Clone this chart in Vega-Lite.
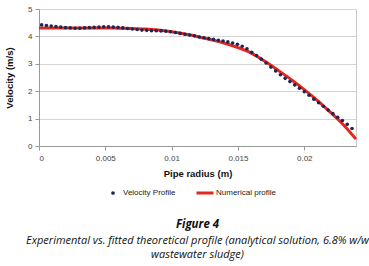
{
  "$schema": "https://vega.github.io/schema/vega-lite/v6.json",
  "autosize": "none",
  "width": 317,
  "height": 137,
  "padding": {"left": 39, "top": 9, "right": 13, "bottom": 120},
  "background": "white",
  "config": {
    "font": "Liberation Sans",
    "view": {"stroke": "#c8c8c8", "strokeWidth": 1},
    "axis": {"labelFont": "Liberation Sans", "labelFontSize": 8, "labelColor": "#444", "titleFont": "Liberation Sans", "titleFontSize": 9.5, "titleFontWeight": "bold", "titleColor": "#111", "domainColor": "#999", "tickColor": "#999", "gridColor": "#d4d4d4"},
    "legend": {"labelFont": "Liberation Sans", "labelFontSize": 8, "labelColor": "#222", "title": null}
  },
  "datasets": {
    "meas": [
      {"r": 0.0002, "v": 4.42}, {"r": 0.00056, "v": 4.40}, {"r": 0.00092, "v": 4.38}, {"r": 0.00128, "v": 4.36},
      {"r": 0.00164, "v": 4.34}, {"r": 0.002, "v": 4.32}, {"r": 0.00236, "v": 4.31}, {"r": 0.00272, "v": 4.30},
      {"r": 0.00308, "v": 4.30}, {"r": 0.00344, "v": 4.31}, {"r": 0.0038, "v": 4.32}, {"r": 0.00416, "v": 4.33},
      {"r": 0.00452, "v": 4.34}, {"r": 0.00488, "v": 4.35}, {"r": 0.00524, "v": 4.35}, {"r": 0.0056, "v": 4.34},
      {"r": 0.00596, "v": 4.33}, {"r": 0.00632, "v": 4.31}, {"r": 0.00668, "v": 4.29}, {"r": 0.00704, "v": 4.27},
      {"r": 0.0074, "v": 4.25}, {"r": 0.00776, "v": 4.23}, {"r": 0.00812, "v": 4.22}, {"r": 0.00848, "v": 4.21},
      {"r": 0.00884, "v": 4.21}, {"r": 0.0092, "v": 4.20}, {"r": 0.00956, "v": 4.19}, {"r": 0.00992, "v": 4.17},
      {"r": 0.01028, "v": 4.14}, {"r": 0.01064, "v": 4.11}, {"r": 0.011, "v": 4.08}, {"r": 0.01136, "v": 4.05},
      {"r": 0.01172, "v": 4.02}, {"r": 0.01208, "v": 3.98}, {"r": 0.01244, "v": 3.95}, {"r": 0.0128, "v": 3.92},
      {"r": 0.01316, "v": 3.89}, {"r": 0.01352, "v": 3.86}, {"r": 0.01388, "v": 3.83}, {"r": 0.01424, "v": 3.80},
      {"r": 0.0146, "v": 3.76}, {"r": 0.01496, "v": 3.71}, {"r": 0.01532, "v": 3.64}, {"r": 0.01568, "v": 3.55},
      {"r": 0.01604, "v": 3.42}, {"r": 0.0164, "v": 3.30}, {"r": 0.01676, "v": 3.17}, {"r": 0.01712, "v": 3.03},
      {"r": 0.01748, "v": 2.88}, {"r": 0.01784, "v": 2.74}, {"r": 0.0182, "v": 2.60}, {"r": 0.01856, "v": 2.47},
      {"r": 0.01892, "v": 2.35}, {"r": 0.01928, "v": 2.23}, {"r": 0.01964, "v": 2.11}, {"r": 0.02, "v": 1.98},
      {"r": 0.02036, "v": 1.85}, {"r": 0.02072, "v": 1.71}, {"r": 0.02108, "v": 1.58}, {"r": 0.02144, "v": 1.45},
      {"r": 0.0218, "v": 1.31}, {"r": 0.02216, "v": 1.18}, {"r": 0.02252, "v": 1.05}, {"r": 0.02288, "v": 0.93},
      {"r": 0.02324, "v": 0.79}, {"r": 0.0236, "v": 0.64}
    ],
    "model": [
      {"r": 0.0, "v": 4.31}, {"r": 0.001, "v": 4.31}, {"r": 0.002, "v": 4.31}, {"r": 0.003, "v": 4.31},
      {"r": 0.004, "v": 4.31}, {"r": 0.005, "v": 4.31}, {"r": 0.006, "v": 4.30}, {"r": 0.007, "v": 4.29},
      {"r": 0.008, "v": 4.27}, {"r": 0.009, "v": 4.23}, {"r": 0.01, "v": 4.17}, {"r": 0.011, "v": 4.09},
      {"r": 0.012, "v": 3.99}, {"r": 0.013, "v": 3.88}, {"r": 0.014, "v": 3.75}, {"r": 0.015, "v": 3.59},
      {"r": 0.016, "v": 3.39}, {"r": 0.017, "v": 3.10}, {"r": 0.018, "v": 2.77}, {"r": 0.019, "v": 2.43},
      {"r": 0.02, "v": 2.06}, {"r": 0.021, "v": 1.66}, {"r": 0.022, "v": 1.22}, {"r": 0.023, "v": 0.75},
      {"r": 0.0239, "v": 0.25}
    ]
  },
  "title": {
    "text": "Figure 4",
    "subtitle": ["Experimental vs. fitted theoretical profile (analytical solution, 6.8% w/w", "wastewater sludge)"],
    "orient": "bottom",
    "anchor": "middle",
    "offset": 20,
    "font": "Open Sans",
    "fontSize": 11.5,
    "fontStyle": "italic",
    "fontWeight": "bold",
    "color": "#111",
    "subtitleFont": "Open Sans",
    "subtitleFontSize": 11,
    "subtitleFontStyle": "italic",
    "subtitleColor": "#111",
    "subtitleLineHeight": 14.5,
    "subtitlePadding": 4
  },
  "encoding": {
    "x": {"field": "r", "type": "quantitative", "title": "Pipe radius (m)",
          "scale": {"domain": [0, 0.0239], "nice": false},
          "axis": {"values": [0, 0.005, 0.01, 0.015, 0.02], "format": "~g", "grid": false, "tickSize": 4, "labelPadding": 4, "titlePadding": 6}},
    "y": {"field": "v", "type": "quantitative", "title": "Velocity (m/s)",
          "scale": {"domain": [0, 5], "nice": false},
          "axis": {"values": [0, 1, 2, 3, 4, 5], "format": "d", "tickSize": 4, "labelPadding": 3, "titlePadding": 13}}
  },
  "layer": [
    {
      "data": {"name": "model"},
      "mark": {"type": "line", "strokeWidth": 3, "interpolate": "monotone"},
      "encoding": {
        "stroke": {"datum": "Numerical profile", "type": "nominal",
                   "scale": {"domain": ["Numerical profile"], "range": ["#e2271f"]},
                   "legend": {"orient": "none", "legendX": 156, "legendY": 174, "symbolType": "stroke", "symbolSize": 289, "symbolStrokeWidth": 3, "labelOffset": 1}}
      }
    },
    {
      "data": {"name": "meas"},
      "mark": {"type": "point", "filled": true, "size": 13, "opacity": 1},
      "encoding": {
        "fill": {"datum": "Velocity Profile", "type": "nominal",
                 "scale": {"domain": ["Velocity Profile"], "range": ["#1d2654"]},
                 "legend": {"orient": "none", "legendX": 70, "legendY": 180, "symbolType": "circle", "symbolSize": 14, "labelOffset": 6}}
      }
    }
  ]
}
